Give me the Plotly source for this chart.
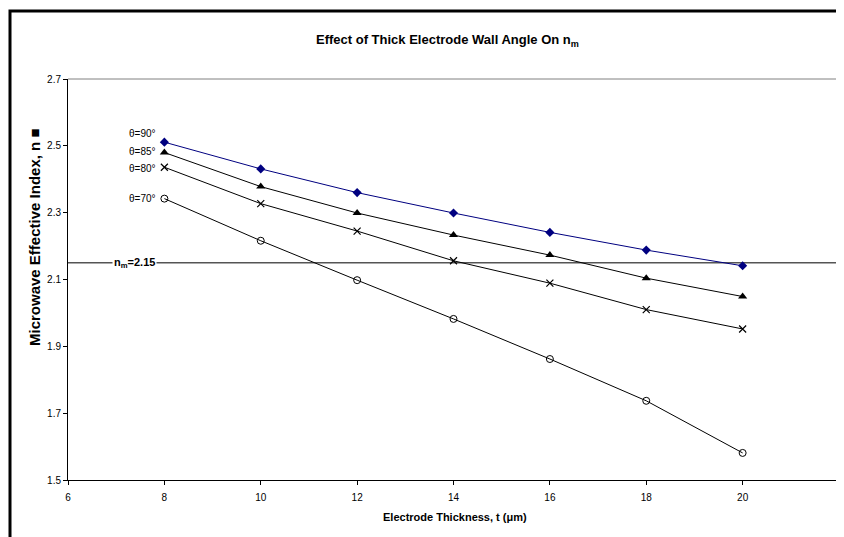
import plotly.graph_objects as go

thickness = [8, 10, 12, 14, 16, 18, 20]
n_theta90 = [2.511, 2.431, 2.360, 2.299, 2.241, 2.188, 2.141]
n_theta85 = [2.480, 2.378, 2.299, 2.233, 2.173, 2.104, 2.049]
n_theta80 = [2.436, 2.327, 2.245, 2.156, 2.089, 2.010, 1.952]
n_theta70 = [2.342, 2.216, 2.098, 1.982, 1.862, 1.737, 1.581]
series_labels = ["θ=90°", "θ=85°", "θ=80°", "θ=70°"]
label_y = [2.538, 2.482, 2.431, 2.341]
nm_target = 2.15
x_ticks = [6, 8, 10, 12, 14, 16, 18, 20, 22]
y_ticks = [1.5, 1.7, 1.9, 2.1, 2.3, 2.5, 2.7]

FONT = "Liberation Sans, Arial, sans-serif"
OFF = 8  # page body margin
W, H = 844 - OFF, 537 - OFF
# plot area in page pixels
PL, PR, PT, PB = 68, 839, 79, 480
L, R, T, B = PL - OFF, PR - OFF, PT - OFF, PB - OFF

def px_x(page):
    return (page - PL) / (PR - PL)

def px_y(page):
    return (PB - page) / (PB - PT)

fig = go.Figure()

# reference line n_m = 2.15
fig.add_shape(type="line", xref="x", yref="y", x0=x_ticks[0], x1=x_ticks[-1],
              y0=nm_target, y1=nm_target, line=dict(color="#555555", width=1.5), layer="below")

styles = [
    (n_theta90, "#000080", dict(symbol="diamond", size=7, color="#000080")),
    (n_theta85, "black", dict(symbol="triangle-up", size=8, color="black")),
    (n_theta80, "black", dict(symbol="x-thin", size=7, line=dict(color="black", width=1.2))),
    (n_theta70, "black", dict(symbol="circle-open", size=7, color="black", line=dict(width=1))),
]
for (vals, col, mk), name in zip(styles, series_labels):
    fig.add_trace(go.Scatter(x=thickness, y=vals, mode="lines+markers", name=name,
                             line=dict(color=col, width=1), marker=mk, showlegend=False,
                             cliponaxis=False))

# plot-area border (top/right gray)
fig.add_shape(type="line", xref="paper", yref="paper", x0=0, x1=1, y0=1, y1=1,
              line=dict(color="#808080", width=1))
fig.add_shape(type="line", xref="paper", yref="paper", x0=1, x1=1, y0=0, y1=1,
              line=dict(color="#808080", width=1))

# outer chart border (left/top)
fig.add_shape(type="path", xref="paper", yref="paper",
              path=f"M {px_x(10)},{px_y(600)} L {px_x(10)},{px_y(11)} L {px_x(900)},{px_y(11)}",
              line=dict(color="black", width=3))

annotations = []
for lab, ly in zip(series_labels, label_y):
    annotations.append(dict(x=px_x(158), y=ly, xref="paper", yref="y", text=lab,
                            showarrow=False, xanchor="right", yanchor="middle",
                            font=dict(family=FONT, size=10, color="black")))
annotations.append(dict(x=px_x(112), y=nm_target, xref="paper", yref="y",
                        text="<b>n<sub>m</sub>=2.15</b>", showarrow=False,
                        xanchor="left", yanchor="middle", bgcolor="white",
                        font=dict(family=FONT, size=11, color="black")))
annotations.append(dict(x=px_x(447), y=px_y(41), xref="paper", yref="paper",
                        text="<b>Effect of Thick Electrode Wall Angle On n<sub>m</sub></b>",
                        showarrow=False, xanchor="center", yanchor="middle",
                        font=dict(family=FONT, size=13, color="black")))
annotations.append(dict(x=px_x(35), y=px_y(238), xref="paper", yref="paper",
                        text="<b>Microwave Effective Index, n ■</b>", textangle=-90,
                        showarrow=False, xanchor="center", yanchor="middle",
                        font=dict(family=FONT, size=15, color="black")))
annotations.append(dict(x=px_x(455), y=px_y(517), xref="paper", yref="paper",
                        text="<b>Electrode Thickness, t (μm)</b>",
                        showarrow=False, xanchor="center", yanchor="middle",
                        font=dict(family=FONT, size=11, color="black")))

fig.update_layout(
    width=W, height=H,
    margin=dict(l=L, r=W - R, t=T, b=H - B, pad=0),
    paper_bgcolor="white", plot_bgcolor="white",
    annotations=annotations,
    font=dict(family=FONT, size=10, color="black"),
)
fig.update_xaxes(range=[6, 22], tickvals=x_ticks, ticks="outside", ticklen=4,
                 tickcolor="black", showline=True, linecolor="black", linewidth=1,
                 showgrid=False, zeroline=False, tickfont=dict(family=FONT, size=10),
                 ticklabelstandoff=4)
fig.update_yaxes(range=[1.5, 2.7], tickvals=y_ticks, ticktext=[f"{v:.1f}" for v in y_ticks],
                 ticks="outside", ticklen=4, tickcolor="black", showline=True,
                 linecolor="black", linewidth=1, showgrid=False, zeroline=False,
                 tickfont=dict(family=FONT, size=10))

fig.write_html("out.html")
